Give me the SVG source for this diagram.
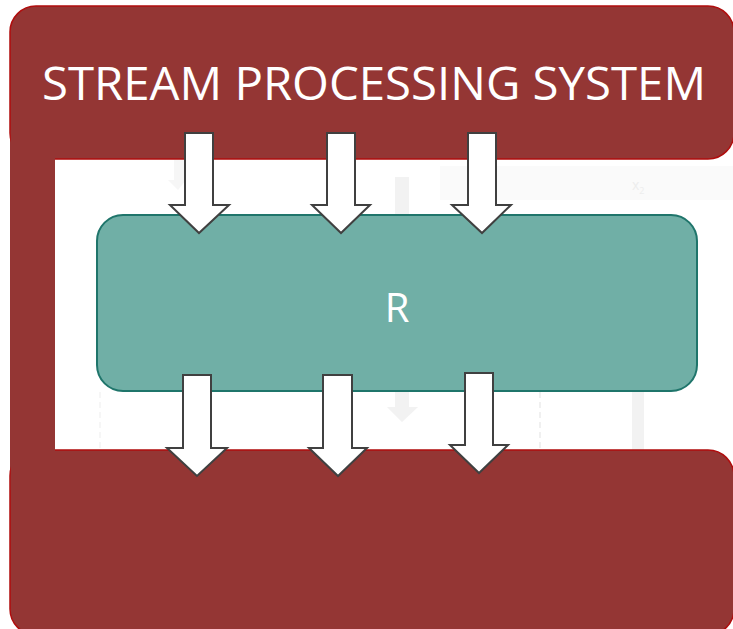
<svg xmlns="http://www.w3.org/2000/svg" width="733" height="629" viewBox="0 0 733 629">
  <defs>
    <style>
      .frame { fill: #943634; stroke: #b00d0d; stroke-width: 1.5; }
      .frame-fill { fill: #943634; }
      .title { font-family: "Open Sans", "Liberation Sans", sans-serif; font-size: 46px; fill: #ffffff; }
      .core { fill: #70afa6; stroke: #1f756b; stroke-width: 2; }
      .core-label { font-family: "Open Sans", "Liberation Sans", sans-serif; font-size: 40px; fill: #ffffff; }
      .flow { fill: #ffffff; stroke: #404040; stroke-width: 2; stroke-linejoin: miter; }
      .ghost { fill: #f2f2f2; stroke: none; }
      .ghost-line { fill: none; stroke: #f0f0f0; stroke-width: 2; }
    </style>
  </defs>

  <rect width="733" height="629" fill="#ffffff"/>

  <!-- faint background remnants -->
  <g id="background-remnants">
    <rect class="ghost" x="440" y="166" width="293" height="34" opacity="0.35"/>
    <text x="632" y="190" font-family="Open Sans, Liberation Sans, sans-serif" font-size="14" fill="#ededed">x<tspan font-size="9" dy="4">2</tspan></text>
    <path class="ghost" d="M395 177 H409 V407 H418 L402 422 L387 407 H395 Z"/>
    <path class="ghost" d="M174 160 H186 V180 L178 190 L168 180 H174 Z" opacity="0.7"/>
    <rect class="ghost" x="632" y="390" width="12" height="60"/>
    <line class="ghost-line" x1="540" y1="392" x2="540" y2="450" stroke-dasharray="6 4"/>
    <line class="ghost-line" x1="100" y1="392" x2="100" y2="450" stroke-dasharray="6 4" opacity="0.6"/>
  </g>

  <!-- system frame -->
  <g id="system-frame">
    <rect class="frame-fill" x="10" y="120" width="45" height="380"/>
    <rect class="frame" x="10" y="6" width="724" height="153" rx="26" ry="26"/>
    <rect class="frame" x="10" y="450" width="724" height="185" rx="26" ry="26"/>
    <rect class="frame-fill" x="10.75" y="130" width="44.25" height="360"/>
    <text class="title" x="42" y="100" textLength="664" lengthAdjust="spacingAndGlyphs">STREAM PROCESSING SYSTEM</text>
  </g>

  <!-- processing core -->
  <g id="core-r">
    <rect class="core" x="97" y="215" width="600" height="176" rx="26" ry="26"/>
    <text class="core-label" x="397" y="322" text-anchor="middle">R</text>
  </g>

  <!-- data flows in and out -->
  <g id="connectors">
    <path class="flow" d="M185 133 H213 V205 H229 L199 233 L170 205 H185 Z"/>
    <path class="flow" d="M327 133 H355 V205 H370 L341 233 L312 205 H327 Z"/>
    <path class="flow" d="M468 133 H496 V205 H511 L482 233 L452 205 H468 Z"/>
    <path class="flow" d="M183 375 H211 V448 H227 L197 476 L167 448 H183 Z"/>
    <path class="flow" d="M323 375 H352 V448 H367 L338 476 L309 448 H323 Z"/>
    <path class="flow" d="M465 373 H493 V445 H508 L479 473 L450 445 H465 Z"/>
  </g>
</svg>
